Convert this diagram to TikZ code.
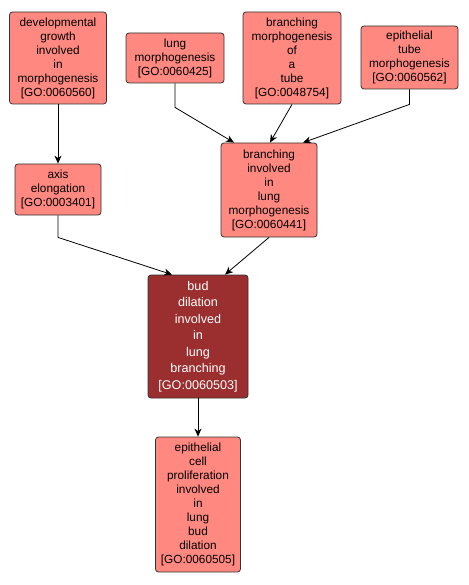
\documentclass[tikz,border=0pt]{standalone}
\usepackage{fontspec}
\setmainfont{Liberation Sans}
\usetikzlibrary{arrows.meta}
\definecolor{lightfill}{RGB}{255,136,128}
\definecolor{darkfill}{RGB}{155,46,46}
\definecolor{edgecol}{RGB}{0,0,0}
\tikzset{
  gonode/.style={draw=black!80, line width=0.8pt, rounded corners=3pt, fill=lightfill,
    inner sep=0pt, align=center, font=\fontsize{11.8}{14}\selectfont, text=black},
  darknode/.style={gonode, fill=darkfill, text=white, font=\fontsize{12.6}{16.5}\selectfont},
  conn/.style={draw=edgecol, line width=0.8pt, -{Stealth[length=8pt,width=7pt,inset=2.5pt]}}
}
\begin{document}
\begin{tikzpicture}[x=1pt,y=-1pt]
\useasboundingbox (0,0) rectangle (468,585);
\node[gonode, minimum width=97, minimum height=92] (n1) at (58,58) {developmental\\growth\\involved\\in\\morphogenesis\\{[GO:0060560]}};
\node[gonode, minimum width=98, minimum height=50] (n2) at (175,58) {lung\\morphogenesis\\{[GO:0060425]}};
\node[gonode, minimum width=98, minimum height=92] (n3) at (292,58) {branching\\morphogenesis\\of\\a\\tube\\{[GO:0048754]}};
\node[gonode, minimum width=97, minimum height=63] (n4) at (409.5,57.5) {epithelial\\tube\\morphogenesis\\{[GO:0060562]}};
\node[gonode, minimum width=86, minimum height=51] (n5) at (58,189.5) {axis\\elongation\\{[GO:0003401]}};
\node[gonode, minimum width=96, minimum height=94] (n6) at (269,190) {branching\\involved\\in\\lung\\morphogenesis\\{[GO:0060441]}};
\node[darknode, minimum width=100, minimum height=123] (n7) at (198,336.5) {bud\\dilation\\involved\\in\\lung\\branching\\{[GO:0060503]}};
\node[gonode, minimum width=85, minimum height=135] (n8) at (198,504.5) {epithelial\\cell\\proliferation\\involved\\in\\lung\\bud\\dilation\\{[GO:0060505]}};
\draw[conn] (n1.south) -- (n5.north);
\draw[conn] (n2.south) -- ++(0,24) -- ([xshift=-35pt]n6.north);
\draw[conn] (n3.south) -- ([xshift=1pt]n6.north);
\draw[conn] (n4.south) -- ++(0,15) -- ([xshift=34pt]n6.north);
\draw[conn] (n5.south) -- ++(0,22) -- ([xshift=-26pt]n7.north);
\draw[conn] (n6.south) -- ([xshift=27pt]n7.north);
\draw[conn] (n7.south) -- (n8.north);
\end{tikzpicture}
\end{document}
